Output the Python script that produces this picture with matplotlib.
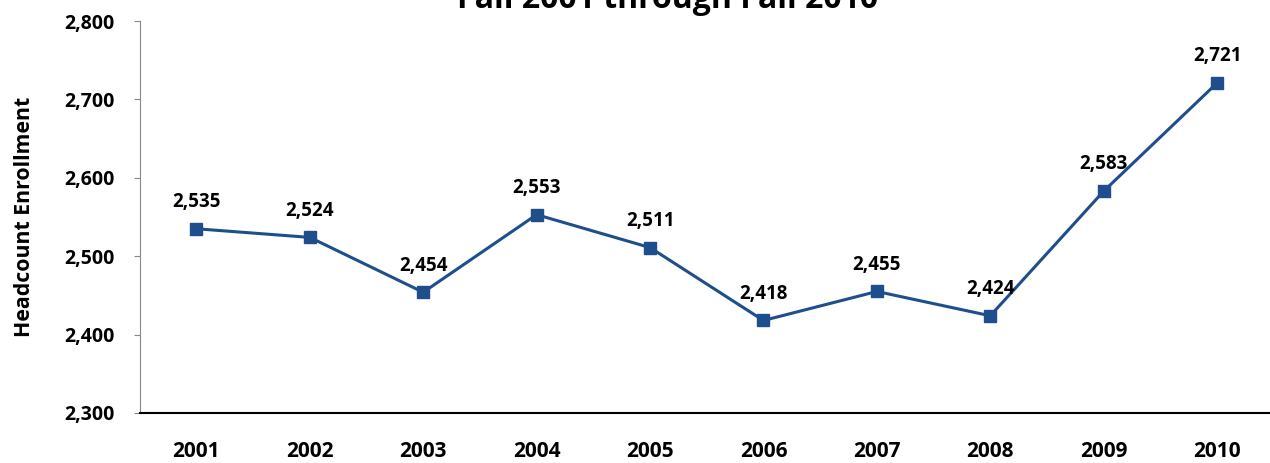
import numpy as np
import matplotlib
matplotlib.use("Agg")
import matplotlib.pyplot as plt

plt.rcParams['font.family'] = ['Open Sans', 'DejaVu Sans']

years = ['2001', '2002', '2003', '2004', '2005', '2006', '2007', '2008', '2009', '2010']
enroll = [2535, 2524, 2454, 2553, 2511, 2418, 2455, 2424, 2583, 2721]
yticks = [2300, 2400, 2500, 2600, 2700, 2800]

fig = plt.figure(figsize=(12.7, 4.63), dpi=100)
ax = fig.add_axes([0.110, 0.108, 0.893, 0.8466])

x = np.arange(len(years))
ax.plot(x, enroll, color='#1f4e8c', lw=2.2, marker='s', ms=8, mfc='#1f4e8c', mec='#1f4e8c')

# value labels above each point
for xi, v in zip(x, enroll):
    ax.annotate(f"{v:,}", (xi, v), xytext=(0, 12), textcoords='offset points',
                ha='center', va='bottom', fontsize=13.5, fontweight='bold')

ax.set_xlim(-0.5, len(years) - 0.5)
ax.set_ylim(2300, 2800)
ax.set_yticks(yticks)
ax.set_yticklabels([f"{t:,}" for t in yticks], fontsize=14, fontweight='bold')
ax.set_xticks(x)
ax.set_xticklabels(years, fontsize=15, fontweight='bold')
ax.tick_params(axis='x', length=0, pad=20)
ax.tick_params(axis='y', length=4, color='#888888', pad=14)

for s in ['top', 'right']:
    ax.spines[s].set_visible(False)
ax.spines['left'].set_color('#888888')
ax.spines['bottom'].set_color('black')
ax.spines['bottom'].set_linewidth(1.5)

ax.set_ylabel('Headcount Enrollment', fontsize=15.3, fontweight='bold', labelpad=21)

fig.text(0.526, 0.983, 'Fall 2001 through Fall 2010', ha='center', va='baseline',
         fontsize=23, fontweight='bold')

fig.savefig('out.png', dpi=100)
